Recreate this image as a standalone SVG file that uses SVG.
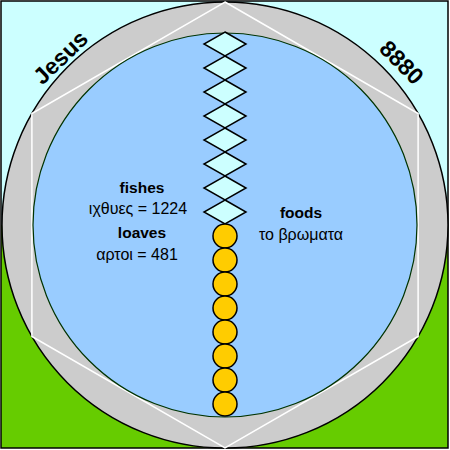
<svg xmlns="http://www.w3.org/2000/svg" width="450" height="450" viewBox="0 0 450 450">
<style>
.dia{fill:#CCFFFF;stroke:#000;stroke-width:1.5}
.bead{fill:#FFCC00;stroke:#000;stroke-width:1.5}
.b{font-family:"Liberation Sans",Arial,sans-serif;font-weight:bold;font-size:15.5px;text-anchor:middle;fill:#000}
.r{font-family:"Liberation Sans",Arial,sans-serif;font-size:16px;text-anchor:middle;fill:#000}
.big{font-family:"Liberation Sans",Arial,sans-serif;font-weight:bold;font-size:23px;text-anchor:middle;fill:#000}
</style>
<defs>
<polygon id="d" points="225,0 246,12 225,24 204,12"/>
</defs>
<g id="background">
<rect x="0" y="0" width="450" height="450" fill="#FFFFFF"/>
<rect x="1" y="1" width="447" height="224" fill="#CCFFFF"/>
<rect x="1" y="225" width="447" height="223" fill="#66CC00"/>
<rect x="1" y="1" width="447" height="447" fill="none" stroke="#000" stroke-width="1.5"/>
</g>
<g id="ring">
<circle cx="225" cy="225" r="223" fill="#CCCCCC" stroke="#000" stroke-width="1.5"/>
<polygon points="225,2 418.1,113.5 418.1,336.5 225,448 31.9,336.5 31.9,113.5" fill="none" stroke="#FFFFFF" stroke-width="1.5"/>
</g>
<g id="inner">
<circle cx="225" cy="225" r="192" fill="#99CCFF" stroke="#003300" stroke-width="1.2"/>
</g>
<g id="fishes-chain">
<use href="#d" class="dia" y="32"/>
<use href="#d" class="dia" y="56"/>
<use href="#d" class="dia" y="80"/>
<use href="#d" class="dia" y="104"/>
<use href="#d" class="dia" y="128"/>
<use href="#d" class="dia" y="152"/>
<use href="#d" class="dia" y="176"/>
<use href="#d" class="dia" y="200"/>
</g>
<g id="loaves-chain">
<circle class="bead" cx="225" cy="236" r="12"/>
<circle class="bead" cx="225" cy="260" r="12"/>
<circle class="bead" cx="225" cy="284" r="12"/>
<circle class="bead" cx="225" cy="308" r="12"/>
<circle class="bead" cx="225" cy="332" r="12"/>
<circle class="bead" cx="225" cy="356" r="12"/>
<circle class="bead" cx="225" cy="380" r="12"/>
<circle class="bead" cx="225" cy="404" r="12"/>
</g>
<g id="labels">
<text class="big" transform="translate(66,63) rotate(-44)">Jesus</text>
<text class="big" transform="translate(396,68) rotate(45)">8880</text>
<text class="b" x="142" y="193">fishes</text>
<text class="r" x="138" y="214">ιχθυες = 1224</text>
<text class="b" x="142" y="238">loaves</text>
<text class="r" x="137" y="260">αρτοι = 481</text>
<text class="b" x="301" y="218">foods</text>
<text class="r" x="301" y="240">το βρωματα</text>
</g>
</svg>
